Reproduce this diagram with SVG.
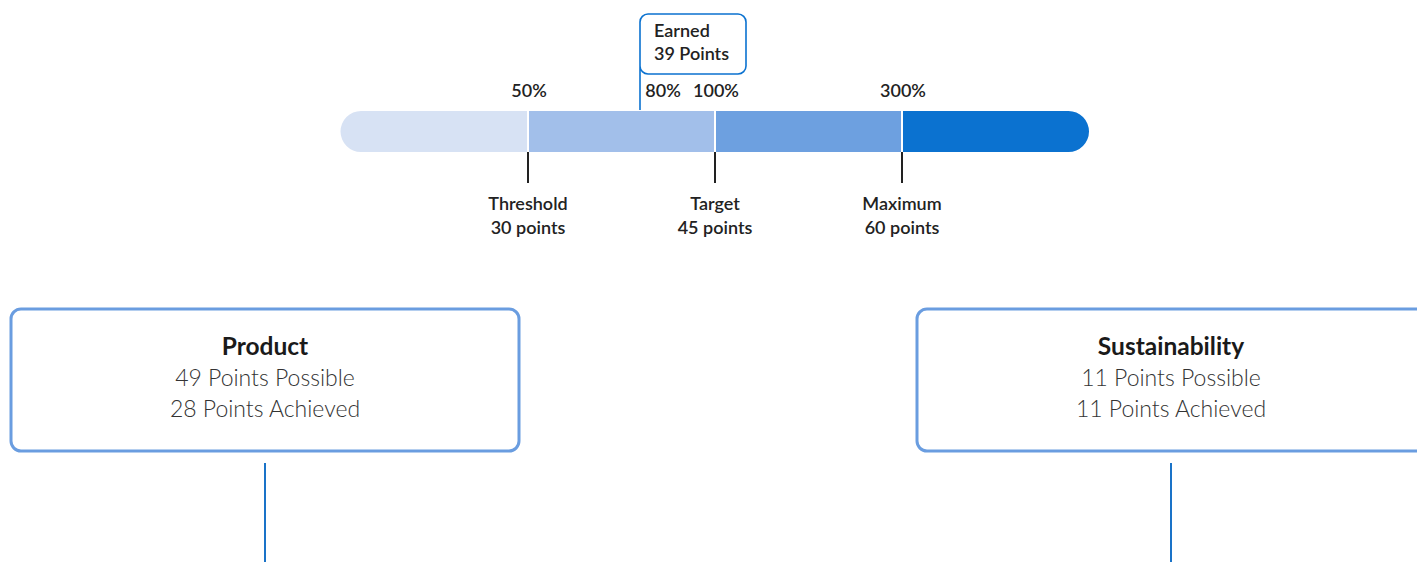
<svg xmlns="http://www.w3.org/2000/svg" width="1417" height="562" viewBox="0 0 1417 562">
<style>
.lbl{font-family:"Source Sans Pro","Lato","Noto Sans",sans-serif;font-weight:600;font-size:18px;fill:#222;}
.c{text-anchor:middle;}
.title{font-family:"Source Sans Pro","Lato","Noto Sans",sans-serif;font-weight:700;font-size:24.5px;fill:#1a1a1a;text-anchor:middle;}
.sub{font-family:"Source Sans Pro","Lato","Noto Sans",sans-serif;font-weight:300;font-size:23px;fill:#333;text-anchor:middle;}
.box{fill:#fff;stroke:#6a9de0;stroke-width:3;}
.tick{stroke:#222;stroke-width:2;}
.conn{stroke:#1a73c8;stroke-width:2;fill:none;}
.sep{stroke:#fff;stroke-width:2;}
</style>
<rect width="1417" height="562" fill="#fff"/>
<g id="scale-bar">
<path d="M361,111 H528 V152 H361 A20.5,20.5 0 0 1 361,111 Z" fill="#d7e2f4"/>
<rect x="528" y="111" width="187" height="41" fill="#a2bfea"/>
<rect x="715" y="111" width="187" height="41" fill="#6da0e0"/>
<path d="M902,111 H1068.5 A20.5,20.5 0 0 1 1068.5,152 H902 Z" fill="#0b72d0"/>
<line class="sep" x1="528" y1="111" x2="528" y2="152"/>
<line class="sep" x1="715" y1="111" x2="715" y2="152"/>
<line class="sep" x1="902" y1="111" x2="902" y2="152"/>
<line class="tick" x1="528" y1="152" x2="528" y2="183"/>
<line class="tick" x1="715" y1="152" x2="715" y2="183"/>
<line class="tick" x1="902" y1="152" x2="902" y2="183"/>
<text class="lbl c" x="529" y="97">50%</text>
<text class="lbl c" x="663" y="97">80%</text>
<text class="lbl c" x="716" y="97">100%</text>
<text class="lbl c" x="903" y="97">300%</text>
<text class="lbl c" x="528" y="210">Threshold</text>
<text class="lbl c" x="528" y="234">30 points</text>
<text class="lbl c" x="715" y="210">Target</text>
<text class="lbl c" x="715" y="234">45 points</text>
<text class="lbl c" x="902" y="210">Maximum</text>
<text class="lbl c" x="902" y="234">60 points</text>
</g>
<g id="earned">
<path d="M640,110 V22 A8,8 0 0 1 648,14 H738 A8,8 0 0 1 746,22 V66 A8,8 0 0 1 738,74 H648 A8,8 0 0 1 640,66" fill="#fff" stroke="#0b72d0" stroke-width="1.6"/>
<text class="lbl" x="654" y="37">Earned</text>
<text class="lbl" x="654" y="60">39 Points</text>
</g>
<g id="product">
<rect class="box" x="11" y="309" width="508" height="142" rx="10"/>
<text class="title" x="265" y="355">Product</text>
<text class="sub" x="265" y="386">49 Points Possible</text>
<text class="sub" x="265" y="417">28 Points Achieved</text>
</g>
<g id="sustainability">
<rect class="box" x="917" y="309" width="510" height="142" rx="10"/>
<text class="title" x="1171" y="355">Sustainability</text>
<text class="sub" x="1171" y="386">11 Points Possible</text>
<text class="sub" x="1171" y="417">11 Points Achieved</text>
</g>
<g id="connectors">
<line class="conn" x1="265" y1="463" x2="265" y2="562"/>
<line class="conn" x1="1171" y1="463" x2="1171" y2="562"/>
</g>
</svg>
